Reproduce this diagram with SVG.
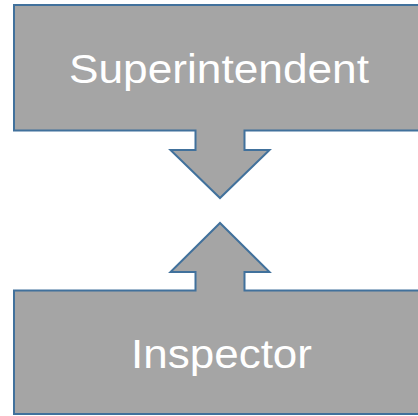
<svg xmlns="http://www.w3.org/2000/svg" width="418" height="416" viewBox="0 0 418 416">
<style>
.shape{fill:#a5a5a5;stroke:#41719c;stroke-width:2;stroke-linejoin:miter}
.lbl{fill:#ffffff;font-family:"Liberation Sans",Arial,sans-serif;font-size:40px;text-anchor:middle}
</style>
<rect width="418" height="416" fill="#ffffff"/>
<g id="superintendent">
<path class="shape" d="M14,5 H426 V130.5 H244.5 V150 H269.5 L220,198 L170.5,150 H195.5 V130.5 H14 Z"/>
<text class="lbl" x="219" y="83" textLength="300" lengthAdjust="spacingAndGlyphs">Superintendent</text>
</g>
<g id="inspector">
<path class="shape" d="M14,414 V290.5 H195.5 V272 H170.5 L220,223 L269.5,272 H244.5 V290.5 H426 V414 Z"/>
<text class="lbl" x="221.5" y="368" textLength="181" lengthAdjust="spacingAndGlyphs">Inspector</text>
</g>
<g id="connectors"></g>
</svg>
